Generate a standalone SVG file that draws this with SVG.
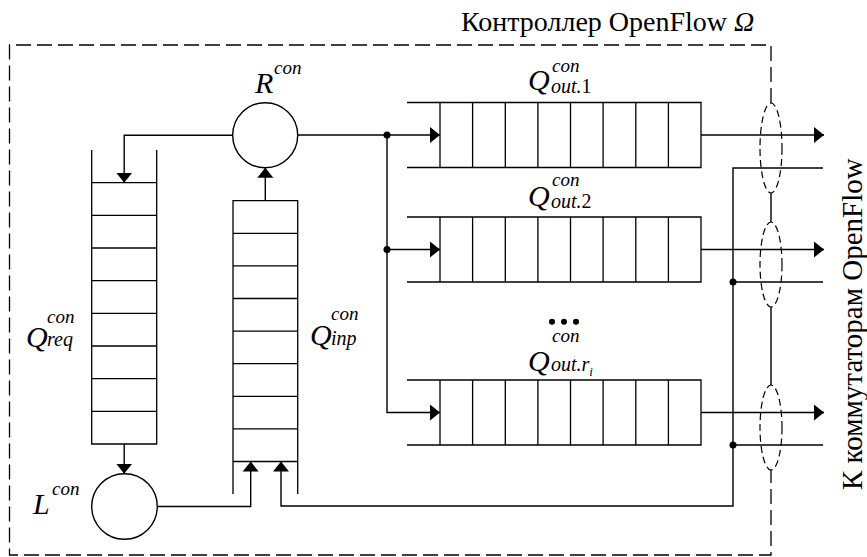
<svg xmlns="http://www.w3.org/2000/svg" width="867" height="557" viewBox="0 0 867 557">
<style>
.ln{fill:none;stroke:#000;stroke-width:1.4}
.q{fill:none;stroke:#000;stroke-width:1.3}
.brd{fill:none;stroke:#000;stroke-width:1.3;stroke-dasharray:15 6}
.ell{fill:none;stroke:#000;stroke-width:1.2;stroke-dasharray:7 4}
.dot{fill:#000;stroke:none}
</style>
<defs>
<marker id="ah" markerUnits="userSpaceOnUse" viewBox="0 -9 10 18" refX="10" refY="0" markerWidth="10" markerHeight="18" orient="auto">
<path d="M0,-8 L10,0 L0,8 Z" fill="#000"/>
</marker>
</defs>
<rect width="867" height="557" fill="#fff"/>
<text x="461" y="31" style="font-family:'Liberation Serif';font-size:28px">Контроллер OpenFlow <tspan style="font-style:italic">Ω</tspan></text>
<text style="font-family:'Liberation Serif';font-size:29px" transform="translate(862,490) rotate(-90)">К коммутаторам OpenFlow</text>
<text x="255" y="93" style="font-family:'Liberation Serif';font-style:italic;font-size:30px">R</text>
<text x="274" y="74" style="font-family:'Liberation Serif';font-style:italic;font-size:19px">con</text>
<text x="33" y="514" style="font-family:'Liberation Serif';font-style:italic;font-size:30px">L</text>
<text x="52" y="495" style="font-family:'Liberation Serif';font-style:italic;font-size:19px">con</text>
<text x="26" y="347" style="font-family:'Liberation Serif';font-style:italic;font-size:30px">Q</text>
<text x="47" y="323" style="font-family:'Liberation Serif';font-style:italic;font-size:19px">con</text>
<text x="47" y="346" style="font-family:'Liberation Serif';font-style:italic;font-size:20px">req</text>
<text x="310" y="345" style="font-family:'Liberation Serif';font-style:italic;font-size:30px">Q</text>
<text x="331" y="320" style="font-family:'Liberation Serif';font-style:italic;font-size:19px">con</text>
<text x="331" y="345" style="font-family:'Liberation Serif';font-style:italic;font-size:20px">inp</text>
<text x="528" y="90" style="font-family:'Liberation Serif';font-style:italic;font-size:30px">Q</text>
<text x="552" y="72" style="font-family:'Liberation Serif';font-style:italic;font-size:19px">con</text>
<text x="551" y="93" style="font-family:'Liberation Serif';font-style:italic;font-size:20px">out.<tspan style="font-style:normal">1</tspan></text>
<text x="528" y="206" style="font-family:'Liberation Serif';font-style:italic;font-size:30px">Q</text>
<text x="552" y="186" style="font-family:'Liberation Serif';font-style:italic;font-size:19px">con</text>
<text x="551" y="208" style="font-family:'Liberation Serif';font-style:italic;font-size:20px">out.<tspan style="font-style:normal">2</tspan></text>
<text x="528" y="371" style="font-family:'Liberation Serif';font-style:italic;font-size:30px">Q</text>
<text x="552" y="342" style="font-family:'Liberation Serif';font-style:italic;font-size:19px">con</text>
<text x="551" y="371" style="font-family:'Liberation Serif';font-style:italic;font-size:20px">out.r<tspan style="font-size:13px" dy="5">i</tspan></text>

<g id="border">
<path class="brd" d="M771,103 V45 H9.5 V555 H771 V470"/>
</g>

<g id="bundles">
<ellipse class="ell" cx="771" cy="148" rx="11" ry="45"/>
<ellipse class="ell" cx="771" cy="264.5" rx="11" ry="42.5"/>
<ellipse class="ell" cx="771" cy="427.5" rx="11" ry="42.5"/>
<path class="ln" d="M771,193 V222 M771,307 V385"/>
</g>

<g id="R">
<circle class="ln" cx="265.2" cy="135.2" r="32.5"/>
</g>

<g id="L">
<circle class="ln" cx="124.5" cy="506.5" r="32.8"/>
</g>

<g id="Qreq">
<path class="q" d="M91.7,150 V444 H156.7 V150 M91.7,182.7 H156.7 M91.7,215.4 H156.7 M91.7,248 H156.7 M91.7,280.7 H156.7 M91.7,313.4 H156.7 M91.7,346 H156.7 M91.7,378.7 H156.7 M91.7,411.4 H156.7"/>
</g>

<g id="Qinp">
<path class="q" d="M233,494 V200.7 H297.7 V494 M233,461.5 H297.7 M233,233.3 H297.7 M233,265.9 H297.7 M233,298.5 H297.7 M233,331.1 H297.7 M233,363.7 H297.7 M233,396.3 H297.7 M233,428.9 H297.7"/>
</g>

<g id="Qout1">
<path class="q" d="M407,102.5 H701 V167.5 H407 M440,102.5 V167.5 M472.6,102.5 V167.5 M505.3,102.5 V167.5 M537.9,102.5 V167.5 M570.5,102.5 V167.5 M603.1,102.5 V167.5 M635.8,102.5 V167.5 M668.4,102.5 V167.5"/>
</g>

<g id="Qout2">
<path class="q" d="M407,217 H701 V282 H407 M440,217 V282 M472.6,217 V282 M505.3,217 V282 M537.9,217 V282 M570.5,217 V282 M603.1,217 V282 M635.8,217 V282 M668.4,217 V282"/>
</g>

<g id="Qout3">
<circle class="dot" cx="552" cy="321.7" r="3"/>
<circle class="dot" cx="564" cy="321.7" r="3"/>
<circle class="dot" cx="576" cy="321.7" r="3"/>
<path class="q" d="M407,380 H701 V445 H407 M440,380 V445 M472.6,380 V445 M505.3,380 V445 M537.9,380 V445 M570.5,380 V445 M603.1,380 V445 M635.8,380 V445 M668.4,380 V445"/>
</g>

<g id="connectors">
<path class="ln" d="M232.7,135.2 H124.2 V182.7" marker-end="url(#ah)"/>
<path class="ln" d="M124.2,444 V473.7" marker-end="url(#ah)"/>
<path class="ln" d="M265.3,200.7 V167.7" marker-end="url(#ah)"/>
<path class="ln" d="M297.7,135 H440" marker-end="url(#ah)"/>
<path class="ln" d="M387,135 V412.5 H440" marker-end="url(#ah)"/>
<path class="ln" d="M387,249.5 H440" marker-end="url(#ah)"/>
<path class="ln" d="M157.3,506.5 H250.7 V461.5" marker-end="url(#ah)"/>
<path class="ln" d="M823,168 H733 V506 H281 V461.5" marker-end="url(#ah)"/>
<path class="ln" d="M733,282 H823 M733,445 H823"/>
<path class="ln" d="M701,135 H824" marker-end="url(#ah)"/>
<path class="ln" d="M701,249.5 H824" marker-end="url(#ah)"/>
<path class="ln" d="M701,412.5 H824" marker-end="url(#ah)"/>
<circle class="dot" cx="387" cy="135" r="3.5"/>
<circle class="dot" cx="387" cy="249.5" r="3.5"/>
<circle class="dot" cx="733" cy="282" r="3.5"/>
<circle class="dot" cx="733" cy="445" r="3.5"/>
</g>
</svg>
